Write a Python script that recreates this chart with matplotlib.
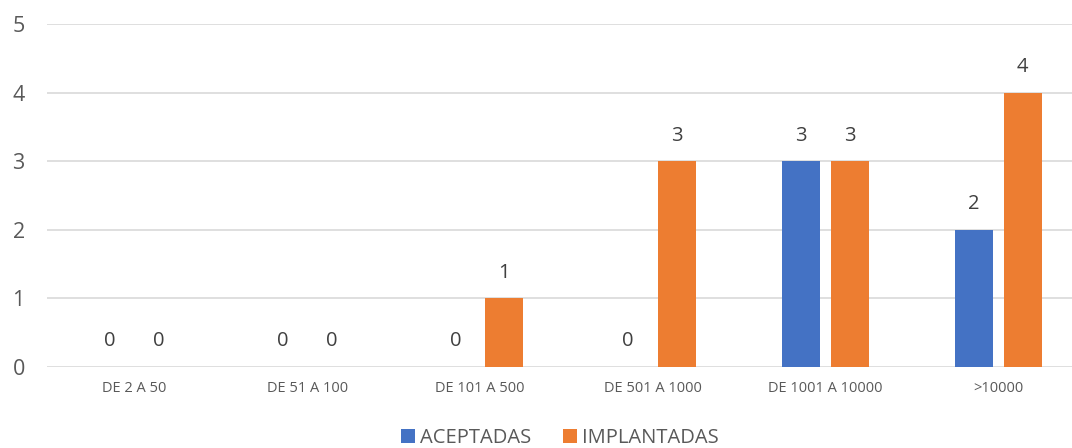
import matplotlib.pyplot as plt
import numpy as np

# data
categories = ['DE 2 A 50', 'DE 51 A 100', 'DE 101 A 500', 'DE 501 A 1000', 'DE 1001 A 10000', '>10000']
aceptadas = [0, 0, 0, 0, 3, 2]
implantadas = [0, 0, 1, 3, 3, 4]

blue = '#4472C4'
orange = '#ED7D31'
grey = '#595959'

plt.rcParams['font.family'] = ['Open Sans', 'DejaVu Sans']

fig = plt.figure(figsize=(10.72, 4.48), dpi=100)
ax = fig.add_axes([47 / 1072, 81 / 448, 1025 / 1072, 343 / 448])

x = np.arange(len(categories))
w = 0.22
off = 0.142
b1 = ax.bar(x - off, aceptadas, w, color=blue, label='ACEPTADAS', zorder=3)
b2 = ax.bar(x + off, implantadas, w, color=orange, label='IMPLANTADAS', zorder=3)

# value labels above each bar
for bars, vals in [(b1, aceptadas), (b2, implantadas)]:
    for b, v in zip(bars, vals):
        ax.annotate(str(v), (b.get_x() + b.get_width() / 2, v),
                    xytext=(0, 18.5), textcoords='offset points',
                    ha='center', va='center', fontsize=14.5, color='#404040')

ax.set_xlim(-0.505, -0.505 + 1025 / 172.8)
ax.set_ylim(0, 5)
ax.set_yticks(range(6))
ax.yaxis.grid(True, color='#D9D9D9', linewidth=1.2, zorder=0)
ax.set_axisbelow(True)
for s in ax.spines.values():
    s.set_visible(False)

ax.set_xticks(x)
ax.set_xticklabels(categories, fontsize=10.5, color=grey)
ax.tick_params(axis='x', length=0, pad=10)
ax.tick_params(axis='y', length=0, pad=16, labelsize=15.5, labelcolor=grey)

fig.legend(handles=[b1, b2], loc='center', bbox_to_anchor=(560 / 1072, 1 - 438 / 448),
           ncol=2, frameon=False, fontsize=14.5, labelcolor=grey,
           handlelength=0.7, handleheight=0.7, handletextpad=0.25, columnspacing=1.6)

fig.savefig('out.png', dpi=100)
